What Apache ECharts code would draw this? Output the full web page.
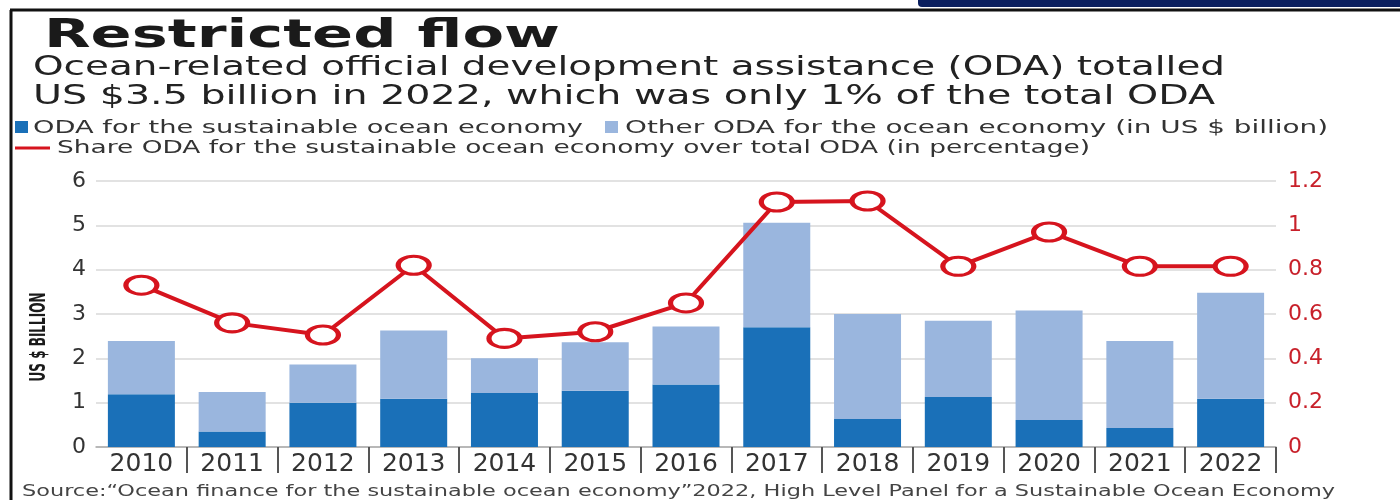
<!DOCTYPE html>
<html>
<head>
<meta charset="utf-8">
<title>Restricted flow</title>
<script src="https://cdn.jsdelivr.net/npm/echarts@6.0.0/dist/echarts.min.js"></script>
<style>
  html, body { margin: 0; padding: 0; background: #fff; }
  #chart { width: 1400px; height: 500px; }
</style>
</head>
<body>
<div id="chart"></div>
<script>
// data
const years = ['2010', '2011', '2012', '2013', '2014', '2015', '2016', '2017', '2018', '2019', '2020', '2021', '2022'];
const sustainableOda = [1.19, 0.35, 1.0, 1.09, 1.22, 1.27, 1.41, 2.7, 0.63, 1.13, 0.61, 0.43, 1.09];
const otherOda = [1.2, 0.89, 0.86, 1.54, 0.78, 1.09, 1.31, 2.36, 2.37, 1.72, 2.47, 1.96, 2.39];
const sharePct = [0.73, 0.56, 0.505, 0.82, 0.49, 0.52, 0.65, 1.105, 1.11, 0.815, 0.97, 0.815, 0.815];

const seriesNames = [
  'ODA for the sustainable ocean economy',
  'Other ODA for the ocean economy (in US $ billion)',
  'Share ODA for the sustainable ocean economy over total ODA (in percentage)'
];
const titleText = 'Restricted flow';
const subtitleLines = [
  'Ocean-related official development assistance (ODA) totalled',
  'US $3.5 billion in 2022, which was only 1% of the total ODA'
];
const sourceText = 'Source:\u201COcean finance for the sustainable ocean economy\u201D2022, High Level Panel for a Sustainable Ocean Economy';
const yName = 'US $ BILLION';

const DARK = '#1a70b8';
const LIGHT = '#9ab6de';
const RED = '#d6141e';

const chart = echarts.init(document.getElementById('chart'));

// the reference is a horizontally stretched image: squeeze text to its width
const measureCtx = document.createElement('canvas').getContext('2d');
function fit(text, weight, size, family, width) {
  measureCtx.font = `${weight} ${size}px "${family}"`;
  return width / measureCtx.measureText(text).width;
}

function label(text, x, y, o) {
  const family = o.family || 'DejaVu Sans';
  const weight = o.weight || 'normal';
  return {
    type: 'text', x, y, silent: true,
    rotation: o.rotation || 0,
    scaleX: o.width ? fit(text, weight, o.size, family, o.width) : 1,
    style: {
      text, fontSize: o.size, fontFamily: family, fontWeight: weight,
      fill: o.color || '#222', align: o.align || 'left', verticalAlign: 'middle'
    }
  };
}

const graphics = [
  // frame bits
  {type: 'rect', shape: {x: 918, y: -6, width: 490, height: 13, r: 4}, style: {fill: '#0b1f5e'}, silent: true},
  {type: 'line', shape: {x1: 10, y1: 10, x2: 1400, y2: 10}, style: {stroke: '#111', lineWidth: 3}, silent: true},
  {type: 'line', shape: {x1: 11, y1: 10, x2: 11, y2: 500}, style: {stroke: '#111', lineWidth: 3}, silent: true},

  label(titleText, 44, 37, {size: 39, weight: 'bold', width: 516, color: '#1a1a1a'}),
  label(subtitleLines[0], 33, 68, {size: 27, width: 1192, color: '#222'}),
  label(subtitleLines[1], 33, 97, {size: 27, width: 1182, color: '#222'}),

  // legend
  {type: 'rect', shape: {x: 15, y: 121, width: 13, height: 12}, style: {fill: DARK}, silent: true},
  label(seriesNames[0], 33, 128, {size: 18, width: 550, color: '#333'}),
  {type: 'rect', shape: {x: 605, y: 121, width: 13, height: 12}, style: {fill: LIGHT}, silent: true},
  label(seriesNames[1], 625, 128, {size: 18, width: 703, color: '#333'}),
  {type: 'line', shape: {x1: 15, y1: 148, x2: 50, y2: 148}, style: {stroke: RED, lineWidth: 3}, silent: true},
  label(seriesNames[2], 57, 149, {size: 17, width: 1033, color: '#333'}),

  label(yName, 40, 337, {size: 21, weight: 'bold', width: 89,
    rotation: Math.PI / 2, align: 'center', color: '#1a1a1a'}),

  label(sourceText, 22, 492, {size: 15, width: 1313, color: '#444'})
];

chart.setOption({
  animation: false,
  backgroundColor: '#fff',
  grid: {left: 96, right: 124, top: 181, bottom: 53},
  graphic: graphics,
  xAxis: {
    type: 'category',
    data: years,
    boundaryGap: true,
    axisLine: {show: true, lineStyle: {color: '#aaa', width: 1.5}},
    axisTick: {show: true, alignWithLabel: false, length: 26, interval: (i) => i > 0,
      lineStyle: {color: '#555', width: 2}},
    axisLabel: {margin: 5, fontSize: 25, fontFamily: 'DejaVu Sans', color: '#333'}
  },
  yAxis: [
    {
      type: 'value', min: 0, max: 6, interval: 1,
      axisLine: {show: false}, axisTick: {show: false},
      axisLabel: {margin: 10, fontSize: 22, fontFamily: 'DejaVu Sans', color: '#333'},
      splitLine: {lineStyle: {color: '#d9d9d9', width: 1.5}}
    },
    {
      type: 'value', min: 0, max: 1.2, interval: 0.2,
      axisLine: {show: false}, axisTick: {show: false},
      axisLabel: {margin: 12, fontSize: 22, fontFamily: 'DejaVu Sans', color: '#c8202a'},
      splitLine: {show: false}
    }
  ],
  series: [
    {
      name: seriesNames[0], type: 'bar', stack: 'oda', barWidth: 67,
      itemStyle: {color: DARK}, data: sustainableOda
    },
    {
      name: seriesNames[1], type: 'bar', stack: 'oda', barWidth: 67,
      itemStyle: {color: LIGHT}, data: otherOda
    },
    {
      name: seriesNames[2], type: 'line', yAxisIndex: 1, z: 5,
      symbol: 'circle', symbolSize: [31, 18],
      itemStyle: {color: '#fff', borderColor: RED, borderWidth: 4},
      lineStyle: {color: RED, width: 4},
      data: sharePct
    }
  ]
});
</script>
</body>
</html>
